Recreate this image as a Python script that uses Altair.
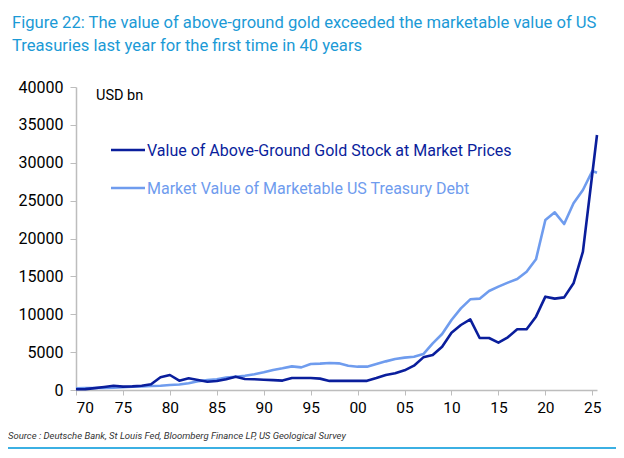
import altair as alt
import pandas as pd

years = list(range(1970, 2025))
gold_vals = [100, 120, 250, 400, 570, 450, 480, 560, 750, 1680,
             1980, 1230, 1540, 1320, 1080, 1190, 1410, 1760, 1450, 1420,
             1360, 1300, 1240, 1580, 1590, 1590, 1500, 1200, 1200, 1200,
             1200, 1210, 1580, 1980, 2200, 2600, 3210, 4310, 4620, 5720,
             7570, 8580, 9330, 6860, 6860, 6250, 6950, 8010, 8010, 9680,
             12320, 12060, 12230, 14080, 18260]
gold_extra_years = [2025.5]
gold_extra_vals = [33660]

treas_vals = [230, 250, 270, 280, 300, 360, 420, 470, 520, 560,
              650, 720, 900, 1150, 1300, 1410, 1630, 1760, 1890, 2070,
              2330, 2640, 2860, 3120, 2990, 3430, 3480, 3560, 3520, 3210,
              3080, 3080, 3430, 3780, 4090, 4270, 4400, 4750, 6160, 7390,
              9240, 10780, 11970, 12060, 13070, 13640, 14170, 14650, 15620, 17250,
              22440, 23450, 21910, 24650, 26400]
treas_extra_years = [2025, 2025.5]
treas_extra_vals = [28910, 28690]

gold_name = "Value of Above-Ground Gold Stock at Market Prices"
treas_name = "Market Value of Marketable US Treasury Debt"
x_ticks = list(range(1970, 2030, 5))
y_ticks = list(range(0, 45000, 5000))

title_lines = ["Figure 22: The value of above-ground gold exceeded the marketable value of US",
               "Treasuries last year for the first time in 40 years"]
source_text = "Source : Deutsche Bank, St Louis Fed, Bloomberg Finance LP, US Geological Survey"

GOLD_C = "#0A1E9C"
TREAS_C = "#6F9CEE"
TITLE_C = "#1B9AD6"
BORDER_C = "#3BB0E3"

rows = []
for y, v in zip(years + gold_extra_years, gold_vals + gold_extra_vals):
    rows.append({"year": y, "value": v, "series": gold_name, "order": 1})
for y, v in zip(years + treas_extra_years, treas_vals + treas_extra_vals):
    rows.append({"year": y, "value": v, "series": treas_name, "order": 0})
df = pd.DataFrame(rows)

W, H = 521, 303
OX, OY = 76, 87  # page coords of plot origin


def px(x):
    return x - OX


def py(y):
    return y - OY


lines = alt.Chart(df).mark_line(strokeWidth=2.6, strokeJoin="round").encode(
    x=alt.X("year:Q", scale=alt.Scale(domain=[1970, 2025.5], nice=False, zero=False),
            axis=alt.Axis(values=x_ticks, labelExpr="substring(toString(datum.value), 2)",
                          title=None, grid=False, domainColor="#BDBDBD", tickColor="#BDBDBD",
                          tickSize=5, labelFontSize=15.5, labelColor="#000000", labelFont="Roboto",
                          labelPadding=5, domainWidth=1.5)),
    y=alt.Y("value:Q", scale=alt.Scale(domain=[0, 40000], nice=False),
            axis=alt.Axis(values=y_ticks, format="d", title=None, grid=False,
                          domainColor="#BDBDBD", tickColor="#BDBDBD", tickSize=6,
                          labelFontSize=16, labelColor="#000000", labelFont="Roboto",
                          labelPadding=7, domainWidth=1.5)),
    color=alt.Color("series:N", scale=alt.Scale(domain=[gold_name, treas_name],
                                                range=[GOLD_C, TREAS_C]), legend=None),
    order=alt.Order("order:Q"),
    detail="series:N",
)

# draw treasury first, gold on top
treas_line = lines.transform_filter(alt.datum.series == treas_name)
gold_line = lines.transform_filter(alt.datum.series == gold_name)


def text_layer(txt, x, y, size, color, weight="normal", style="normal", font="Roboto", baseline="middle"):
    return alt.Chart(pd.DataFrame({"t": [txt]})).mark_text(
        align="left", baseline=baseline, fontSize=size, color=color, font=font,
        fontWeight=weight, fontStyle=style
    ).encode(x=alt.value(px(x)), y=alt.value(py(y)), text="t:N")


def rule_layer(x1, y1, x2, y2, color, width):
    return alt.Chart(pd.DataFrame({"a": [0]})).mark_rule(color=color, strokeWidth=width).encode(
        x=alt.value(px(x1)), x2=alt.value(px(x2)), y=alt.value(py(y1)), y2=alt.value(py(y2)))


layers = [
    treas_line,
    gold_line,
    text_layer(title_lines[0], 12, 23, 16.6, TITLE_C),
    text_layer(title_lines[1], 12, 46, 16.6, TITLE_C),
    text_layer("USD bn", 96, 96, 14.5, "#000000"),
    rule_layer(111, 150, 145, 150, GOLD_C, 2.6),
    text_layer(gold_name, 147, 151, 16, GOLD_C),
    rule_layer(111, 188, 145, 188, TREAS_C, 2.6),
    text_layer(treas_name, 147, 189, 16, TREAS_C),
    text_layer(source_text, 8, 436, 9.5, "#333333", style="italic"),
    rule_layer(5, 5, 5, 58, "#9FD3EE", 1.2),
    rule_layer(5, 5, 618, 5, "#DDE9F2", 1),
    rule_layer(5, 448, 617, 448, BORDER_C, 2),
    rule_layer(617, 428, 617, 448, BORDER_C, 2),
]

chart = alt.layer(*layers).properties(
    width=W, height=H,
    autosize=alt.AutoSizeParams(type="none"),
    padding={"left": OX - 8, "top": OY - 8, "right": 608 - (OX - 8) - W, "bottom": 442 - (OY - 8) - H},
    background="#FFFFFF",
).configure_view(stroke=None)

chart.save("out.html", embed_options={"renderer": "svg", "actions": False})
